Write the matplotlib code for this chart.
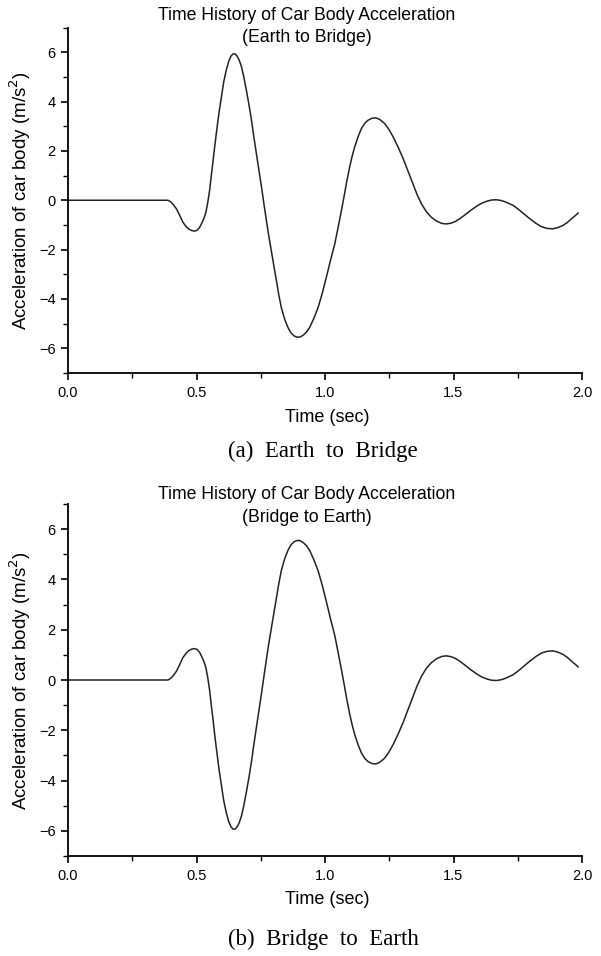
import matplotlib
matplotlib.use("Agg")
import matplotlib.pyplot as plt
from matplotlib.ticker import MultipleLocator, FormatStrFormatter

# values (panel a: Earth to Bridge)
time_a = [0.0, 0.10, 0.20, 0.30, 0.389, 0.400, 0.410, 0.422, 0.435, 0.447,
          0.460, 0.470, 0.482, 0.493, 0.503, 0.512, 0.519, 0.527, 0.533, 0.538,
          0.544, 0.551, 0.557, 0.564, 0.570, 0.577, 0.587, 0.597, 0.606, 0.616,
          0.625, 0.634, 0.642, 0.650, 0.658, 0.666, 0.675, 0.684, 0.694, 0.704,
          0.714, 0.723, 0.733, 0.743, 0.753, 0.762, 0.772, 0.781, 0.791, 0.801,
          0.811, 0.820, 0.830, 0.843, 0.856, 0.868, 0.880, 0.892, 0.904, 0.916,
          0.928, 0.940, 0.956, 0.973, 0.989, 1.005, 1.021, 1.038, 1.051, 1.064,
          1.075, 1.085, 1.096, 1.106, 1.116, 1.129, 1.142, 1.155, 1.167, 1.182,
          1.197, 1.212, 1.232, 1.248, 1.265, 1.285, 1.304, 1.323, 1.342, 1.358,
          1.375, 1.394, 1.414, 1.435, 1.455, 1.472, 1.490, 1.507, 1.524, 1.545,
          1.567, 1.589, 1.610, 1.630, 1.648, 1.667, 1.685, 1.700, 1.716, 1.732,
          1.753, 1.775, 1.797, 1.820, 1.842, 1.864, 1.885, 1.906, 1.926, 1.943,
          1.959, 1.972, 1.985]
accel_a = [0.0, 0.0, 0.0, 0.0, 0.0, -0.07, -0.18, -0.35, -0.62, -0.89,
           -1.07, -1.17, -1.23, -1.25, -1.21, -1.10, -0.96, -0.78, -0.62, -0.41,
           -0.08, 0.40, 0.95, 1.55, 2.10, 2.70, 3.50, 4.19, 4.80, 5.28,
           5.62, 5.84, 5.93, 5.93, 5.84, 5.68, 5.41, 5.00, 4.46, 3.88,
           3.24, 2.58, 1.89, 1.21, 0.53, -0.12, -0.82, -1.43, -2.04, -2.66,
           -3.26, -3.82, -4.35, -4.82, -5.16, -5.38, -5.50, -5.55, -5.54, -5.46,
           -5.34, -5.16, -4.80, -4.35, -3.78, -3.13, -2.45, -1.77, -1.10, -0.41,
           0.20, 0.78, 1.35, 1.80, 2.18, 2.58, 2.91, 3.12, 3.24, 3.32,
           3.34, 3.28, 3.11, 2.88, 2.57, 2.14, 1.69, 1.18, 0.67, 0.24,
           -0.14, -0.46, -0.69, -0.85, -0.94, -0.96, -0.93, -0.86, -0.75, -0.59,
           -0.41, -0.25, -0.12, -0.04, 0.01, 0.02, -0.01, -0.06, -0.13, -0.21,
           -0.37, -0.56, -0.75, -0.93, -1.07, -1.14, -1.16, -1.11, -1.02, -0.90,
           -0.75, -0.64, -0.52]

# panel b: Bridge to Earth (same time points)
time_b = time_a
accel_b = [0.0, 0.0, 0.0, 0.0, 0.0, 0.07, 0.18, 0.35, 0.62, 0.89,
           1.07, 1.17, 1.23, 1.25, 1.21, 1.10, 0.96, 0.78, 0.62, 0.41,
           0.08, -0.40, -0.95, -1.55, -2.10, -2.70, -3.50, -4.19, -4.80, -5.28,
           -5.62, -5.84, -5.93, -5.93, -5.84, -5.68, -5.41, -5.00, -4.46, -3.88,
           -3.24, -2.58, -1.89, -1.21, -0.53, 0.12, 0.82, 1.43, 2.04, 2.66,
           3.26, 3.82, 4.35, 4.82, 5.16, 5.38, 5.50, 5.55, 5.54, 5.46,
           5.34, 5.16, 4.80, 4.35, 3.78, 3.13, 2.45, 1.77, 1.10, 0.41,
           -0.20, -0.78, -1.35, -1.80, -2.18, -2.58, -2.91, -3.12, -3.24, -3.32,
           -3.34, -3.28, -3.11, -2.88, -2.57, -2.14, -1.69, -1.18, -0.67, -0.24,
           0.14, 0.46, 0.69, 0.85, 0.94, 0.96, 0.93, 0.86, 0.75, 0.59,
           0.41, 0.25, 0.12, 0.04, -0.01, -0.02, 0.01, 0.06, 0.13, 0.21,
           0.37, 0.56, 0.75, 0.93, 1.07, 1.14, 1.16, 1.11, 1.02, 0.90,
           0.75, 0.64, 0.52]

title_main = "Time History of Car Body Acceleration"
subtitles = ["(Earth to Bridge)", "(Bridge to Earth)"]
captions = ["(a)  Earth  to  Bridge", "(b)  Bridge  to  Earth"]

W, H = 601, 956
fig = plt.figure(figsize=(W / 100, H / 100), dpi=100)
plt.rcParams['font.family'] = ['Liberation Sans', 'DejaVu Sans']

# axes boxes in pixels: left, top, right, bottom
boxes = [(68, 27.5, 582, 373), (68, 504, 582, 856)]
title_y = [(15, 38), (494, 517)]
xlabel_y = [418, 900]
caption_y = [451, 939]

series = [(time_a, accel_a), (time_b, accel_b)]

for i, (t, a) in enumerate(series):
    l, tp, r, b = boxes[i]
    ax = fig.add_axes([l / W, 1 - b / H, (r - l) / W, (b - tp) / H])
    ax.plot(t, a, color='#222222', lw=1.1)
    ax.set_xlim(0, 2)
    ax.set_ylim(-7, 7)
    ax.spines['top'].set_visible(False)
    ax.spines['right'].set_visible(False)
    for s in ['left', 'bottom']:
        ax.spines[s].set_linewidth(1.3)
    ax.xaxis.set_major_locator(MultipleLocator(0.5))
    ax.xaxis.set_minor_locator(MultipleLocator(0.25))
    ax.yaxis.set_major_locator(MultipleLocator(2))
    ax.yaxis.set_minor_locator(MultipleLocator(1))
    ax.xaxis.set_major_formatter(FormatStrFormatter('%.1f'))
    ax.tick_params(which='major', direction='out', length=5, width=1.2, labelsize=10.5, pad=4)
    ax.tick_params(which='minor', direction='out', length=3.5, width=1.0)
    ax.set_ylabel('Acceleration of car body (m/s$^2$)', fontsize=13.5)
    ax.yaxis.set_label_coords((33 - l) / (r - l), 0.5)

    fig.text(307 / W, 1 - title_y[i][0] / H, title_main, ha='center', va='center',
             fontsize=12.7)
    fig.text(307 / W, 1 - title_y[i][1] / H, subtitles[i], ha='center', va='center',
             fontsize=12.7)
    fig.text(327 / W, 1 - xlabel_y[i] / H, 'Time (sec)', ha='center', va='center',
             fontsize=13)
    fig.text(323 / W, 1 - caption_y[i] / H, captions[i], ha='center', va='center',
             fontsize=16.5, family=['Liberation Serif', 'DejaVu Serif'])

fig.savefig('out.png', dpi=100)
